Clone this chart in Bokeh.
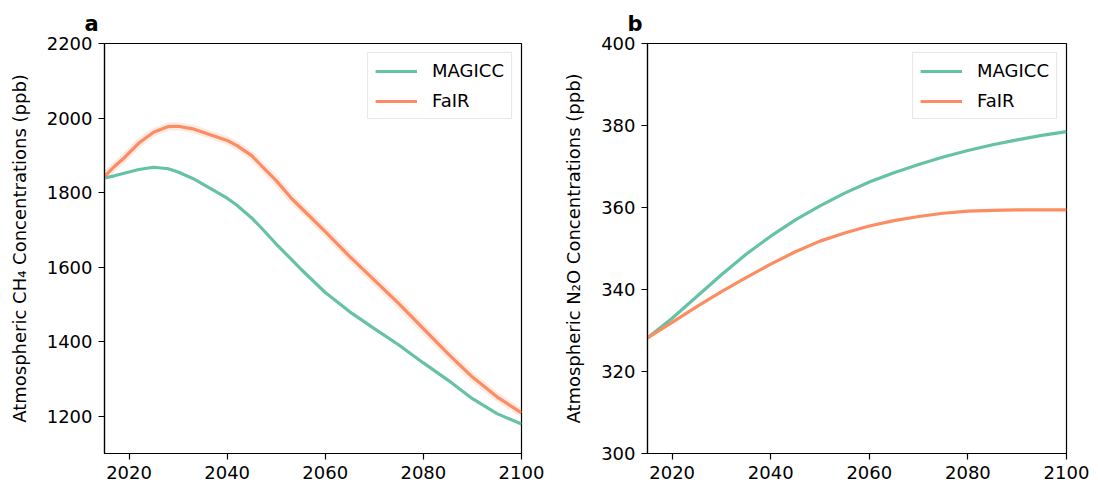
from bokeh.plotting import figure
from bokeh.layouts import row
from bokeh.models import FixedTicker, Range1d, Legend, LegendItem
from bokeh.embed import file_html
from bokeh.resources import INLINE

# Projected atmospheric concentrations, 2015-2100
years_ch4 = [2015, 2017, 2019, 2022, 2025, 2028, 2030, 2033, 2037, 2040, 2042,
             2045, 2047, 2050, 2053, 2055, 2060, 2065, 2070, 2075, 2080, 2085,
             2090, 2095, 2100]
magicc_ch4 = [1839, 1845, 1852, 1862, 1868, 1864, 1855, 1838, 1808, 1785, 1766,
              1732, 1705, 1662, 1622, 1595, 1532, 1480, 1435, 1391, 1343, 1297,
              1247, 1207, 1179]
fair_ch4 = [1843, 1870, 1893, 1933, 1962, 1977, 1978, 1971, 1953, 1940, 1926,
            1899, 1872, 1832, 1786, 1760, 1695, 1628, 1565, 1502, 1435, 1368,
            1305, 1252, 1209]

years_n2o = [2015, 2020, 2025, 2030, 2035, 2040, 2045, 2050, 2055, 2060, 2065,
             2070, 2075, 2080, 2085, 2090, 2095, 2100]
magicc_n2o = [328.2, 333.0, 338.3, 343.6, 348.6, 353.0, 357.0, 360.4, 363.5, 366.2,
              368.5, 370.5, 372.3, 373.9, 375.3, 376.5, 377.6, 378.5]
fair_n2o = [328.2, 332.0, 335.8, 339.5, 342.9, 346.2, 349.2, 351.8, 353.8, 355.5,
            356.8, 357.8, 358.6, 359.1, 359.3, 359.4, 359.4, 359.4]

x_ticks = [2020, 2040, 2060, 2080, 2100]
ch4_ticks = [1200, 1400, 1600, 1800, 2000, 2200]
n2o_ticks = [300, 320, 340, 360, 380, 400]

TEAL = "#66c2a5"
ORANGE = "#fc8d62"
FONT = "DejaVu Sans"


def make_panel(letter, ylabel, years, magicc, fair, y_range, y_ticks,
               frame_w, border_left, border_right, band=False):
    p = figure(frame_width=frame_w, frame_height=410,
               x_range=Range1d(2015, 2100), y_range=Range1d(*y_range),
               output_backend="svg", toolbar_location=None,
               min_border_left=border_left, min_border_right=border_right,
               min_border_top=43, min_border_bottom=40,
               background_fill_color="white", border_fill_color="white")
    p.grid.visible = False
    p.outline_line_color = "black"
    p.outline_line_width = 1.2
    p.outline_line_alpha = 1.0

    for ax in (p.xaxis[0], p.yaxis[0]):
        ax.axis_line_color = "black"
        ax.axis_line_width = 1.2
        ax.major_tick_line_color = "black"
        ax.major_tick_line_width = 1.2
        ax.major_tick_out = 6
        ax.major_tick_in = 0
        ax.minor_tick_out = 0
        ax.minor_tick_in = 0
        ax.major_label_text_font = FONT
        ax.major_label_text_font_size = "18px"
        ax.major_label_text_color = "black"
        ax.major_label_standoff = 6
    p.xaxis.ticker = FixedTicker(ticks=x_ticks)
    p.yaxis.ticker = FixedTicker(ticks=y_ticks)
    p.yaxis.axis_label = ylabel
    p.yaxis.axis_label_text_font = FONT
    p.yaxis.axis_label_text_font_size = "18px"
    p.yaxis.axis_label_text_font_style = "normal"
    p.yaxis.axis_label_text_color = "black"
    p.yaxis.axis_label_standoff = 14

    # panel letter above the frame
    p.title.text = letter
    p.title.text_font = FONT
    p.title.text_font_size = "21px"
    p.title.text_font_style = "bold"
    p.title.text_color = "black"
    p.title.align = "left"
    p.title.offset = -20
    p.title.standoff = 15

    if band:
        p.line(years, fair, line_color=ORANGE, line_width=8, line_alpha=0.18)
    r_m = p.line(years, magicc, line_color=TEAL, line_width=3.2)
    r_f = p.line(years, fair, line_color=ORANGE, line_width=3.2)

    legend = Legend(items=[LegendItem(label="MAGICC", renderers=[r_m]),
                           LegendItem(label="FaIR", renderers=[r_f])],
                    location="top_right")
    legend.margin = 9
    legend.padding = 7
    legend.spacing = 9
    legend.glyph_width = 42
    legend.glyph_height = 20
    legend.label_height = 20
    legend.label_standoff = 15
    legend.label_text_font = FONT
    legend.label_text_font_size = "18px"
    legend.label_text_color = "black"
    legend.border_line_color = "#d0d0d0"
    legend.border_line_width = 1
    legend.background_fill_alpha = 0.9
    p.add_layout(legend)
    return p


p1 = make_panel("a", "Atmospheric CH\u2084 Concentrations (ppb)", years_ch4,
                magicc_ch4, fair_ch4, (1100, 2200), ch4_ticks, 417, 104, 30,
                band=True)
p2 = make_panel("b", "Atmospheric N\u2082O Concentrations (ppb)", years_n2o,
                magicc_n2o, fair_n2o, (300, 400), n2o_ticks, 419, 96, 32)

layout = row(p1, p2)
open("out.html", "w").write(file_html(layout, INLINE))
